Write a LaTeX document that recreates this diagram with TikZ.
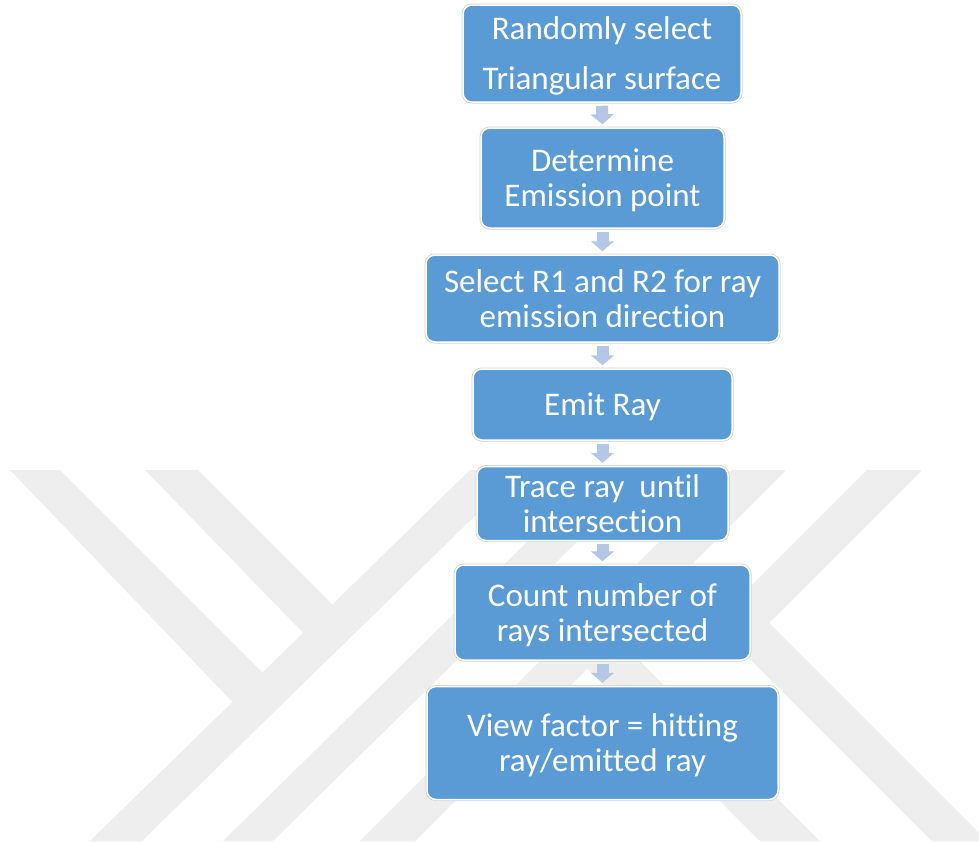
\documentclass[tikz,border=0pt]{standalone}
\usepackage{fontspec}
\setmainfont{Carlito}[Ligatures=NoCommon]
\usetikzlibrary{arrows.meta}
\definecolor{boxblue}{HTML}{5B9BD5}
\definecolor{arrowblue}{HTML}{B4C7E7}
\definecolor{wmgray}{HTML}{EEEEEE}
\newcommand\boxtext[1]{\raisebox{-4pt}[\height][\depth]{\fontsize{33}{35}\selectfont\begin{tabular}{@{}c@{}}#1\end{tabular}}}
\tikzset{
  flowbox/.style={rectangle, rounded corners=9pt, fill=boxblue, draw=white, line width=1.5pt,
    preaction={draw=black!18, line width=3pt},
    text=white, inner sep=0pt},
  flowarrow/.style={draw=arrowblue, line width=12pt, -{Triangle[width=23pt,length=10pt]}},
  wmark/.style={fill=wmgray, draw=none}
}
\begin{document}
\begin{tikzpicture}[x=1pt,y=-1pt]
\useasboundingbox (0,0) rectangle (979,841);
% watermark
\fill[wmark] (10,470) -- (60,470) -- (275,685) -- (245,715) -- cycle;
\fill[wmark] (145,470) -- (198,470) -- (345,617) -- (315,645) -- cycle;
\fill[wmark] (90,841) -- (142,841) -- (522,470) -- (470,470) -- cycle;
\fill[wmark] (223,841) -- (273,841) -- (650,470) -- (600,470) -- cycle;
\fill[wmark] (360,841) -- (415,841) -- (786,470) -- (731,470) -- cycle;
\fill[wmark] (867,470) -- (922,470) -- (769,623) -- (987,841) -- (932,841) -- (714,623) -- cycle;
\fill[wmark] (760,841) -- (820,841) -- (585,606) -- (525,606) -- cycle;
% boxes
\node[flowbox, minimum width=278pt, minimum height=97pt] (b1) at (602,53.5) {\boxtext{Randomly select\\[15pt]Triangular surface}};
\node[flowbox, minimum width=243pt, minimum height=100pt] (b2) at (602.5,178) {\boxtext{Determine\\Emission point}};
\node[flowbox, minimum width=353pt, minimum height=87pt] (b3) at (602.5,298.5) {\boxtext{Select R1 and R2 for ray\\emission direction}};
\node[flowbox, minimum width=259pt, minimum height=71pt] (b4) at (602.5,404.5) {\boxtext{Emit Ray}};
\node[flowbox, minimum width=251pt, minimum height=74pt] (b5) at (602.5,503.5) {\boxtext{Trace ray\ \ until\\intersection}};
\node[flowbox, minimum width=295pt, minimum height=95pt] (b6) at (602.5,612.5) {\boxtext{Count number of\\rays intersected}};
\node[flowbox, minimum width=351pt, minimum height=113pt] (b7) at (602.5,743) {\boxtext{View factor = hitting\\ray/emitted ray}};
% arrows
\draw[flowarrow] ([yshift=-3pt]b1.south) -- ([yshift=3pt]b2.north);
\draw[flowarrow] ([yshift=-3pt]b2.south) -- ([yshift=3pt]b3.north);
\draw[flowarrow] ([yshift=-3pt]b3.south) -- ([yshift=3pt]b4.north);
\draw[flowarrow] ([yshift=-3pt]b4.south) -- ([yshift=3pt]b5.north);
\draw[flowarrow] ([yshift=-3pt]b5.south) -- ([yshift=3pt]b6.north);
\draw[flowarrow] ([yshift=-3pt]b6.south) -- ([yshift=3pt]b7.north);
\end{tikzpicture}
\end{document}
